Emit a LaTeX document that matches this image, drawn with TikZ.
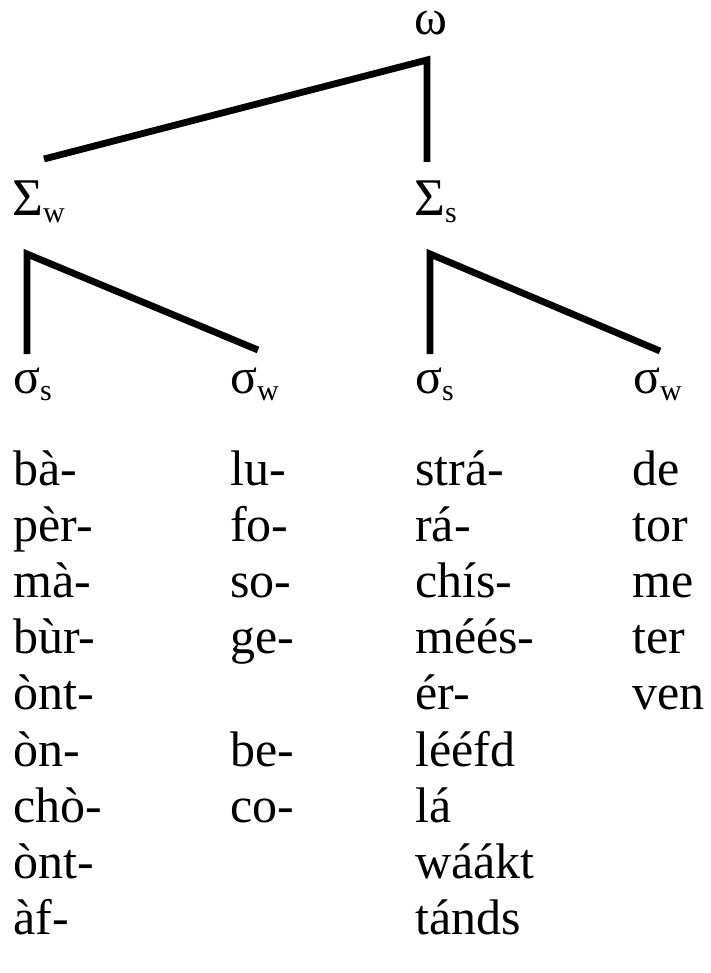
\documentclass[tikz,border=0pt]{standalone}
\usepackage{fontspec}
\setmainfont{Liberation Serif}
\newcommand\mysub[1]{\raisebox{-7pt}{\fontsize{30}{30}\selectfont #1}}
\begin{document}
\begin{tikzpicture}[x=1pt,y=-1pt,
  lbl/.style={anchor=base west, inner sep=0pt, font=\fontsize{50}{56}\selectfont},
  bigsig/.style={anchor=base west, inner sep=0pt, font=\fontsize{53}{56}\selectfont},
  syl/.style={anchor=base west, inner sep=0pt, font=\fontsize{50}{56}\selectfont},
  branch/.style={line width=6.8pt, line cap=butt, line join=miter}]
\useasboundingbox (0,0) rectangle (710,973);

% labels
\node[lbl, text height=24pt] (om) at (414,35) {ω};
\node[bigsig] (Sw) at (12,216) {Σ\mysub{w}};
\node[bigsig] (Ss) at (414,216) {Σ\mysub{s}};
\node[lbl] (s1) at (13,393) {σ\mysub{s}};
\node[lbl] (s2) at (230,393) {σ\mysub{w}};
\node[lbl] (s3) at (415,393) {σ\mysub{s}};
\node[lbl] (s4) at (633,393) {σ\mysub{w}};

% branch points
\coordinate (top) at (427,60);
\coordinate (topL) at (44,159);
\coordinate (topR) at (427,162);
\coordinate (lv) at (27,254);
\coordinate (lvD) at (27,354);
\coordinate (lvW) at (258,350);
\coordinate (rv) at (430,254);
\coordinate (rvD) at (430,354);
\coordinate (rvW) at (660,351);

\draw[branch] (topL) -- (top) -- (topR);
\draw[branch] (lvD) -- (lv) -- (lvW);
\draw[branch] (rvD) -- (rv) -- (rvW);

% syllable columns
\foreach \t [count=\i from 0] in {bà-,pèr-,mà-,bùr-,ònt-,òn-,chò-,ònt-,àf-}
  \node[syl] (a\i) at (13,485+56.2*\i) {\t};
\foreach \t/\i in {lu-/0,fo-/1,so-/2,ge-/3,be-/5,co-/6}
  \node[syl] (b\i) at (230,485+56.2*\i) {\t};
\foreach \t [count=\i from 0] in {strá-,rá-,chís-,méés-,ér-,lééfd,lá,wáákt,tánds}
  \node[syl] (c\i) at (415,485+56.2*\i) {\t};
\foreach \t [count=\i from 0] in {de,tor,me,ter,ven}
  \node[syl] (d\i) at (632,485+56.2*\i) {\t};
\end{tikzpicture}
\end{document}
